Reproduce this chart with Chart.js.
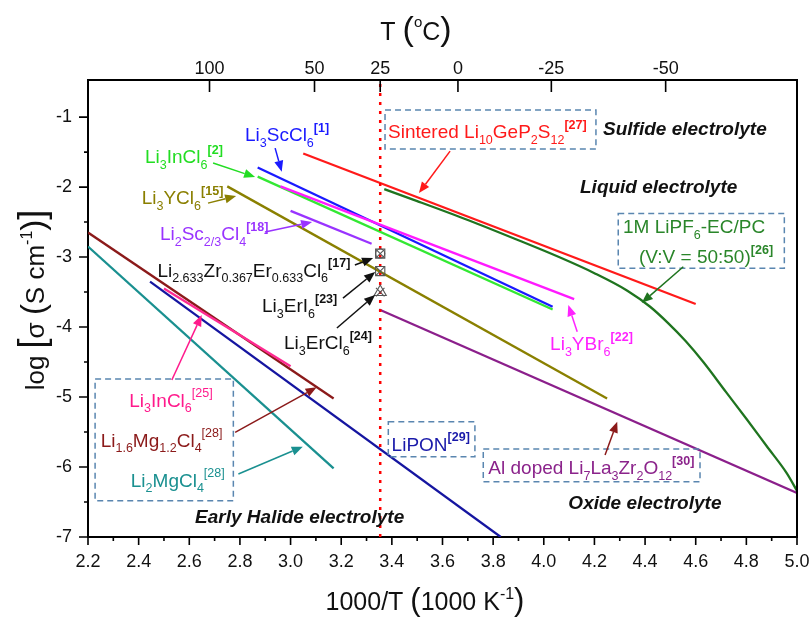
<!DOCTYPE html>
<html>
<head>
<meta charset="utf-8">
<script src="https://cdn.jsdelivr.net/npm/chart.js@4.4.0/dist/chart.umd.min.js"></script>
<style>
  html, body { margin: 0; background: #fff; }
  #wrap { width: 811px; height: 619px; }
</style>
</head>
<body>
<div id="wrap"><canvas id="c" width="811" height="619"></canvas></div>
<script>
const FONT = '"Liberation Sans", Arial, Helvetica, sans-serif';

// axis ranges: x = 1000/T, y = log(sigma)
const xMin = 2.2, xMax = 5.0;
const yMin = -7, yMax = -0.47;
// temperatures shown on the top axis (deg C)
const topTemps = [100, 50, 25, 0, -25, -50];
const roomTemp = 25;

// conductivity lines
const lgpsX = [3.05, 4.60];      const lgpsY = [-1.52, -3.67];
const lipf6X = [3.37, 3.50, 3.70, 3.90, 4.06, 4.20, 4.33, 4.42, 4.49, 4.56, 4.63, 4.72, 4.80, 4.88, 4.96, 5.00];
const lipf6Y = [-2.03, -2.20, -2.47, -2.76, -3.00, -3.23, -3.48, -3.71, -3.94, -4.20, -4.50, -4.93, -5.31, -5.70, -6.09, -6.34];
const scClX = [2.87, 4.035];     const scClY = [-1.72, -3.71];
const inCl2X = [2.87, 4.035];    const inCl2Y = [-1.85, -3.75];
const yBrX = [2.96, 4.12];       const yBrY = [-1.99, -3.60];
const yClX = [2.75, 4.25];       const yClY = [-1.99, -5.02];
const sc23X = [3.00, 3.32];      const sc23Y = [-2.34, -2.81];
const llzoX = [3.35, 5.00];      const llzoY = [-3.75, -6.37];
const mg16X = [2.20, 3.17];      const mg16Y = [-2.65, -5.02];
const mg2X = [2.20, 3.17];       const mg2Y = [-2.85, -6.02];
const liponX = [2.445, 3.83];    const liponY = [-3.35, -7.00];
const inCl25X = [2.50, 3.00];    const inCl25Y = [-3.45, -4.56];

// single room-temperature points ([17], [23], [24])
const rtPointsY = [-2.95, -3.20, -3.50];

const roomX = 1000 / (roomTemp + 273.15);
const pts = (xs, ys) => xs.map((v, i) => ({ x: v, y: ys[i] }));

const series = [
  { x: inCl25X, y: inCl25Y, color: '#ff2a92' },
  { x: lgpsX, y: lgpsY, color: '#ff1a1a' },
  { x: lipf6X, y: lipf6Y, color: '#1f741f', curve: true },
  { x: yBrX, y: yBrY, color: '#ff1aff' },
  { x: scClX, y: scClY, color: '#1a1aff' },
  { x: inCl2X, y: inCl2Y, color: '#33e833' },
  { x: sc23X, y: sc23Y, color: '#9933ff' },
  { x: yClX, y: yClY, color: '#8a8000' },
  { x: llzoX, y: llzoY, color: '#8b1f8b' },
  { x: mg16X, y: mg16Y, color: '#8b1a1a' },
  { x: mg2X, y: mg2Y, color: '#1a9090' },
  { x: liponX, y: liponY, color: '#1515a0' }
];

const markerPts = rtPointsY.map(v => ({ x: roomX, y: v }));
const markerSet = (data, style, r) => ({
  type: 'scatter', data, pointStyle: style, pointRadius: r,
  borderColor: '#555', borderWidth: 1.1, backgroundColor: 'rgba(0,0,0,0)', showLine: false
});

const datasets = [
  markerSet([markerPts[0], markerPts[1]], 'rect', 6.5),
  markerSet(markerPts, 'crossRot', 6),
  markerSet([markerPts[0]], 'circle', 4.5),
  markerSet([markerPts[2]], 'triangle', 7),
  {
    type: 'line', data: [{ x: roomX, y: yMin }, { x: roomX, y: yMax }],
    borderColor: '#ff0000', borderWidth: 2.5, borderDash: [3, 6], pointRadius: 0
  }
].concat(series.map(s => ({
  type: 'line', data: pts(s.x, s.y), borderColor: s.color, borderWidth: 2.3,
  pointRadius: 0, cubicInterpolationMode: s.curve ? 'monotone' : 'default'
})));

// annotations (data coordinates)
const labels = [
  { t: 'Li_{3}ScCl_{6}^{[1]}', x: 2.820, y: -1.343, c: '#1a1aff' },
  { t: 'Li_{3}InCl_{6}^{[2]}', x: 2.425, y: -1.657, c: '#22dd22' },
  { t: 'Li_{3}YCl_{6}^{[15]}', x: 2.412, y: -2.243, c: '#8a7f00' },
  { t: 'Li_{2}Sc_{2/3}Cl_{4}^{[18]}', x: 2.484, y: -2.757, c: '#9933ff' },
  { t: 'Li_{2.633}Zr_{0.367}Er_{0.633}Cl_{6}^{[17]}', x: 2.474, y: -3.281, c: '#111' },
  { t: 'Li_{3}ErI_{6}^{[23]}', x: 2.887, y: -3.786, c: '#111' },
  { t: 'Li_{3}ErCl_{6}^{[24]}', x: 2.974, y: -4.314, c: '#111' },
  { t: 'Sintered Li_{10}GeP_{2}S_{12}^{[27]}', x: 3.385, y: -1.30, c: '#ff1a1a' },
  { t: '1M LiPF_{6}-EC/PC', x: 4.313, y: -2.657, c: '#2a862a' },
  { t: '(V:V = 50:50)^{[26]}', x: 4.376, y: -3.086, c: '#2a862a' },
  { t: 'Li_{3}YBr_{6}^{[22]}', x: 4.025, y: -4.329, c: '#ff22ff' },
  { t: 'LiPON^{[29]}', x: 3.399, y: -5.767, c: '#1a1aaa' },
  { t: 'Al doped Li_{7}La_{3}Zr_{2}O_{12}^{[30]}', x: 3.781, y: -6.10, c: '#8b238b' },
  { t: 'Li_{3}InCl_{6}^{[25]}', x: 2.363, y: -5.139, c: '#ff1a8c', thinSup: true },
  { t: 'Li_{1.6}Mg_{1.2}Cl_{4}^{[28]}', x: 2.250, y: -5.710, c: '#8b1a1a', thinSup: true },
  { t: 'Li_{2}MgCl_{4}^{[28]}', x: 2.369, y: -6.281, c: '#1a9090', thinSup: true }
];
const groupLabels = [
  { t: 'Sulfide electrolyte', x: 4.234, y: -1.257 },
  { t: 'Liquid electrolyte', x: 4.143, y: -2.086 },
  { t: 'Oxide electrolyte', x: 4.097, y: -6.604 },
  { t: 'Early Halide electrolyte', x: 2.623, y: -6.796 }
];
const arrows = [
  { from: [2.939, -1.443], to: [2.965, -1.781], c: '#1a1aff' },
  { from: [2.694, -1.657], to: [2.860, -1.857], c: '#22dd22' },
  { from: [2.674, -2.229], to: [2.785, -2.129], c: '#8a7f00' },
  { from: [2.899, -2.643], to: [3.085, -2.500], c: '#9933ff' },
  { from: [3.254, -3.114], to: [3.326, -3.014], c: '#111' },
  { from: [3.207, -3.586], to: [3.334, -3.214], c: '#111' },
  { from: [3.183, -4.014], to: [3.334, -3.543], c: '#111' },
  { from: [3.630, -1.486], to: [3.507, -2.086], c: '#ff1a1a' },
  { from: [4.551, -3.139], to: [4.387, -3.653], c: '#1f741f' },
  { from: [4.132, -4.067], to: [4.097, -3.686], c: '#ff22ff' },
  { from: [4.242, -5.829], to: [4.290, -5.353], c: '#8b1a1a' },
  { from: [2.531, -4.757], to: [2.649, -3.829], c: '#ff1a8c' },
  { from: [2.781, -5.504], to: [3.103, -4.861], c: '#8b1a1a' },
  { from: [2.794, -6.100], to: [3.048, -5.710], c: '#1a9090' }
];
const boxes = [
  [3.373, -0.90, 4.206, -1.457],
  [4.294, -2.376, 4.950, -3.161],
  [3.386, -5.353, 3.728, -5.853],
  [3.761, -5.743, 4.617, -6.210],
  [2.228, -4.743, 2.774, -6.481]
];

// tiny markup: _{sub} and ^{sup}
function parseRich(s) {
  const out = [];
  let buf = '', i = 0;
  while (i < s.length) {
    const ch = s[i];
    if ((ch === '_' || ch === '^') && s[i + 1] === '{') {
      if (buf) { out.push({ t: buf, k: '' }); buf = ''; }
      const j = s.indexOf('}', i);
      out.push({ t: s.slice(i + 2, j), k: ch });
      i = j + 1;
    } else { buf += ch; i++; }
  }
  if (buf) out.push({ t: buf, k: '' });
  return out;
}

function segFont(seg) {
  return (seg.italic ? 'italic ' : '') + (seg.bold ? 'bold ' : '') + seg.s + 'px ' + FONT;
}
function segsWidth(ctx, segs) {
  let w = 0;
  segs.forEach(seg => { ctx.font = segFont(seg); w += ctx.measureText(seg.t).width; });
  return w;
}
function drawSegs(ctx, segs, x, y, color) {
  let cx = x;
  ctx.fillStyle = color;
  ctx.textBaseline = 'alphabetic';
  ctx.textAlign = 'left';
  segs.forEach(seg => {
    ctx.font = segFont(seg);
    ctx.fillText(seg.t, cx, y + (seg.dy || 0));
    cx += ctx.measureText(seg.t).width;
  });
}
function richSegs(str, size, o) {
  return parseRich(str).map(p => {
    if (p.k === '_') return { t: p.t, s: size * 0.66, dy: size * 0.3 };
    if (p.k === '^') return { t: p.t, s: size * 0.66, dy: -size * 0.5, bold: !o.thinSup };
    return { t: p.t, s: size, bold: o.bold, italic: o.italic };
  });
}

const decor = {
  id: 'decor',
  afterDraw(chart) {
    const { ctx, chartArea: a, scales: { x, y } } = chart;
    const px = v => x.getPixelForValue(v);
    const py = v => y.getPixelForValue(v);
    ctx.save();

    // ticks and right frame
    ctx.strokeStyle = '#000';
    ctx.lineWidth = 1.6;
    ctx.beginPath();
    for (let i = 0; i <= 28; i++) {
      const xx = px(xMin + i * 0.1);
      ctx.moveTo(xx, a.bottom); ctx.lineTo(xx, a.bottom + (i % 2 ? 4 : 8));
    }
    for (let i = 0; i <= 12; i++) {
      const yy = py(yMin + i * 0.5);
      ctx.moveTo(a.left, yy); ctx.lineTo(a.left - (i % 2 ? 4 : 9), yy);
    }
    topTemps.forEach(t => {
      const xx = px(1000 / (t + 273.15));
      ctx.moveTo(xx, a.top); ctx.lineTo(xx, a.top + 12);
    });
    ctx.stroke();
    ctx.lineWidth = 2;
    ctx.beginPath();
    ctx.moveTo(a.right, a.top - 1); ctx.lineTo(a.right, a.bottom + 1);
    ctx.stroke();

    // dashed boxes
    ctx.strokeStyle = '#5a86b0';
    ctx.lineWidth = 1.5;
    ctx.setLineDash([6, 4]);
    boxes.forEach(b => {
      const x1 = px(b[0]), y1 = py(b[1]), x2 = px(b[2]), y2 = py(b[3]);
      ctx.strokeRect(x1, y1, x2 - x1, y2 - y1);
    });
    ctx.setLineDash([]);

    // arrows
    arrows.forEach(ar => {
      const x1 = px(ar.from[0]), y1 = py(ar.from[1]), x2 = px(ar.to[0]), y2 = py(ar.to[1]);
      const ang = Math.atan2(y2 - y1, x2 - x1), hl = 11, hw = 4.5;
      const bx = x2 - hl * Math.cos(ang), by = y2 - hl * Math.sin(ang);
      ctx.strokeStyle = ar.c; ctx.fillStyle = ar.c; ctx.lineWidth = 1.5;
      ctx.beginPath(); ctx.moveTo(x1, y1); ctx.lineTo(bx, by); ctx.stroke();
      ctx.beginPath();
      ctx.moveTo(x2, y2);
      ctx.lineTo(bx + hw * Math.sin(ang), by - hw * Math.cos(ang));
      ctx.lineTo(bx - hw * Math.sin(ang), by + hw * Math.cos(ang));
      ctx.closePath(); ctx.fill();
    });

    // labels
    labels.forEach(l => drawSegs(ctx, richSegs(l.t, 19, l), px(l.x), py(l.y), l.c));
    groupLabels.forEach(l => drawSegs(ctx, [{ t: l.t, s: 19, bold: true, italic: true }], px(l.x), py(l.y), '#111'));

    // axis titles
    const xt = [
      { t: '1000/T ', s: 25 }, { t: '(', s: 31 }, { t: '1000 K', s: 25 },
      { t: '-1', s: 16, dy: -11 }, { t: ')', s: 31 }
    ];
    drawSegs(ctx, xt, 425 - segsWidth(ctx, xt) / 2, 610, '#111');

    const tt = [
      { t: 'T ', s: 25 }, { t: '(', s: 34 }, { t: 'o', s: 15, dy: -13 },
      { t: 'C', s: 25 }, { t: ')', s: 34 }
    ];
    drawSegs(ctx, tt, 416 - segsWidth(ctx, tt) / 2, 40, '#111');

    const yt = [
      { t: 'log ', s: 26 }, { t: '[', s: 36 }, { t: 'σ ', s: 26 }, { t: '(', s: 33 },
      { t: 'S cm', s: 26 }, { t: '-1', s: 16, dy: -12 }, { t: ')', s: 33 }, { t: ']', s: 36 }
    ];
    ctx.translate(44, 300);
    ctx.rotate(-Math.PI / 2);
    drawSegs(ctx, yt, -segsWidth(ctx, yt) / 2, 0, '#111');
    ctx.restore();
  }
};

const tickFont = { family: FONT, size: 18 };
// fixed axis sizes so the plot area matches the figure
const fixH = h => s => { s.height = h; s.paddingLeft = 0; s.paddingRight = 0; };

new Chart(document.getElementById('c'), {
  type: 'line',
  data: { datasets },
  options: {
    responsive: false,
    devicePixelRatio: 1,
    animation: false,
    parsing: false,
    layout: { padding: { left: 0, right: 14, top: 40, bottom: 0 } },
    plugins: { legend: { display: false }, tooltip: { enabled: false } },
    scales: {
      x: {
        type: 'linear', position: 'bottom', min: xMin, max: xMax,
        grid: { display: false, drawTicks: false },
        border: { display: true, color: '#000', width: 2 },
        ticks: { stepSize: 0.2, includeBounds: false, padding: 14, color: '#111', font: tickFont,
                 callback: v => v.toFixed(1) },
        afterFit: fixH(82)
      },
      xTop: {
        type: 'linear', position: 'top', min: xMin, max: xMax,
        grid: { display: false, drawTicks: false },
        border: { display: true, color: '#000', width: 2 },
        afterBuildTicks: s => { s.ticks = topTemps.map(t => ({ value: 1000 / (t + 273.15) })); },
        ticks: { padding: 0, color: '#111', font: tickFont, autoSkip: false, maxRotation: 0,
                 callback: (v, i) => String(topTemps[i]) },
        afterFit: fixH(40)
      },
      y: {
        type: 'linear', position: 'left', min: yMin, max: yMax,
        grid: { display: false, drawTicks: false },
        border: { display: true, color: '#000', width: 2 },
        ticks: { stepSize: 1, includeBounds: false, padding: 16, color: '#111', font: tickFont },
        afterFit: s => { s.width = 88; s.paddingTop = 0; s.paddingBottom = 0; }
      }
    }
  },
  plugins: [decor]
});
</script>
</body>
</html>
